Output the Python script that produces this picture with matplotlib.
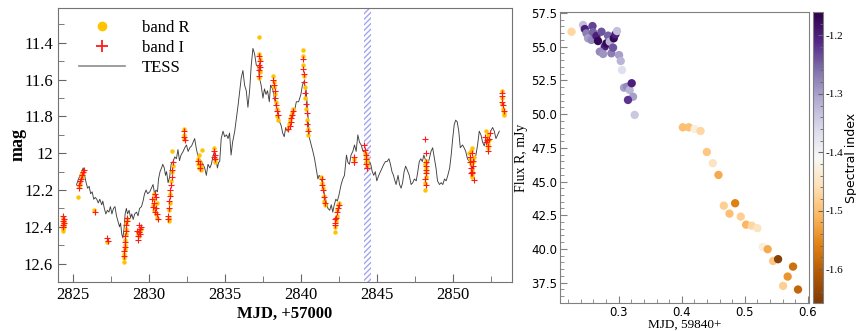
import matplotlib
matplotlib.use("Agg")
import matplotlib.pyplot as plt
from matplotlib.ticker import MultipleLocator, AutoMinorLocator
from matplotlib.lines import Line2D

SERIF = "Liberation Serif"
plt.rcParams["axes.unicode_minus"] = False

# ---- left panel: light curve ----
tess_t = [2825.22, 2825.35, 2825.5, 2825.6, 2825.66, 2825.75, 2825.85, 2825.95, 2826.05, 2826.15,
          2826.25, 2826.35, 2826.45, 2826.55, 2826.65, 2826.75, 2826.88, 2826.95, 2827.05, 2827.15,
          2827.25, 2827.35, 2827.45, 2827.55, 2827.65, 2827.75, 2827.85, 2827.95, 2828.05, 2828.12,
          2828.2, 2828.27, 2828.35, 2828.42, 2828.5, 2828.58, 2828.68, 2828.78, 2828.86, 2828.95,
          2829.05, 2829.17, 2829.27, 2829.37, 2829.5, 2829.6, 2829.7, 2829.8, 2829.9, 2830.04,
          2830.15, 2830.26, 2830.36, 2830.45, 2830.55, 2830.62, 2830.72, 2830.82, 2830.9, 2831.0,
          2831.08, 2831.15, 2831.25, 2831.35, 2831.45, 2831.58, 2831.69, 2831.8, 2831.9, 2832.0,
          2832.1, 2832.24, 2832.35, 2832.46, 2832.57, 2832.68, 2832.8, 2832.9, 2833.0, 2833.1,
          2833.2, 2833.3, 2833.45, 2833.55, 2833.66, 2833.77, 2833.88, 2834.0, 2834.1, 2834.2,
          2834.3, 2834.4, 2834.5, 2834.58, 2834.65, 2834.75, 2834.87, 2834.98, 2835.1, 2835.2,
          2835.3, 2835.4, 2835.5, 2835.64, 2835.75, 2835.86, 2835.97, 2836.07, 2836.18, 2836.29,
          2836.4, 2836.51, 2836.62, 2836.73, 2836.84, 2836.95, 2837.06, 2837.17, 2837.27, 2837.38,
          2837.5, 2837.6, 2837.7, 2837.8, 2837.92, 2838.0, 2838.14, 2838.25, 2838.36, 2838.47,
          2838.6, 2838.7, 2838.8, 2838.9, 2839.0, 2839.1, 2839.25, 2839.38, 2839.5, 2839.6,
          2839.7, 2839.85, 2840.0, 2840.1, 2840.2, 2840.35, 2840.46, 2840.57, 2840.68, 2840.79,
          2840.9, 2841.0, 2841.12, 2841.2, 2841.34, 2841.45, 2841.56, 2841.67, 2841.78, 2841.9,
          2842.0, 2842.1, 2842.2, 2842.3, 2842.4, 2842.5, 2842.65, 2842.76, 2842.87, 2843.0,
          2843.1, 2843.2, 2843.3, 2843.42, 2843.53, 2843.64, 2843.75, 2843.86, 2843.97, 2844.1,
          2844.2, 2844.3, 2844.4, 2844.5, 2844.6, 2844.7, 2844.8, 2844.9, 2845.0, 2845.13,
          2845.24, 2845.35, 2845.46, 2845.57, 2845.68, 2845.8, 2845.9, 2846.0, 2846.1, 2846.16,
          2846.27, 2846.4, 2846.5, 2846.6, 2846.7, 2846.8, 2846.9, 2847.0, 2847.14, 2847.26,
          2847.37, 2847.48, 2847.6, 2847.7, 2847.8, 2847.9, 2848.0, 2848.1, 2848.24, 2848.35,
          2848.46, 2848.57, 2848.68, 2848.8, 2848.9, 2849.0, 2849.13, 2849.24, 2849.35, 2849.46,
          2849.57, 2849.68, 2849.8, 2849.9, 2850.0, 2850.1, 2850.2, 2850.3, 2850.4, 2850.5,
          2850.65, 2850.75, 2850.86, 2850.97, 2851.1, 2851.2, 2851.3, 2851.4, 2851.53, 2851.64,
          2851.75, 2851.86, 2851.97, 2852.08, 2852.2, 2852.3, 2852.4, 2852.5, 2852.63, 2852.74,
          2852.85, 2852.96, 2853.07]
tess_mag = [12.17, 12.14, 12.11, 12.09, 12.08, 12.12, 12.16, 12.19, 12.18, 12.22,
            12.21, 12.25, 12.24, 12.25, 12.27, 12.25, 12.28, 12.26, 12.30, 12.33,
            12.31, 12.32, 12.29, 12.33, 12.30, 12.29, 12.34, 12.37, 12.40, 12.38,
            12.44, 12.46, 12.41, 12.33, 12.30, 12.33, 12.31, 12.35, 12.33, 12.36,
            12.33, 12.32, 12.34, 12.30, 12.29, 12.26, 12.22, 12.20, 12.22, 12.21,
            12.19, 12.17, 12.22, 12.20, 12.21, 12.14, 12.10, 12.08, 12.06, 12.08,
            12.12, 12.10, 12.16, 12.13, 12.06, 12.045, 12.02, 12.03, 11.98, 12.04,
            12.01, 11.99, 11.97, 11.955, 11.99, 11.97, 11.96, 11.94, 11.92, 11.97,
            12.01, 12.03, 12.045, 12.06, 12.08, 12.12, 12.06, 12.08, 12.06, 12.02,
            11.99, 12.03, 12.08, 12.05, 12.045, 11.92, 11.88, 11.91, 11.90, 11.92,
            11.89, 12.01, 11.94, 11.88, 11.81, 11.74, 11.66, 11.59, 11.55, 11.63,
            11.66, 11.75, 11.66, 11.52, 11.43, 11.46, 11.52, 11.53, 11.59, 11.63,
            11.70, 11.65, 11.68, 11.66, 11.72, 11.63, 11.65, 11.70, 11.74, 11.77,
            11.83, 11.85, 11.89, 11.91, 11.86, 11.88, 11.85, 11.82, 11.79, 11.76,
            11.72, 11.72, 11.68, 11.63, 11.61, 11.66, 11.79, 11.92, 11.955, 11.99,
            12.03, 12.08, 12.14, 12.12, 12.14, 12.17, 12.23, 12.26, 12.30, 12.31,
            12.28, 12.32, 12.28, 12.25, 12.26, 12.23, 12.17, 12.14, 12.12, 12.01,
            12.05, 12.06, 12.01, 11.99, 11.955, 11.99, 11.90, 11.94, 11.955, 11.99,
            11.99, 12.01, 12.03, 12.045, 12.06, 12.10, 12.12, 12.10, 12.15, 12.12,
            12.10, 12.08, 12.06, 12.045, 12.045, 12.03, 12.06, 12.10, 12.12, 12.14,
            12.17, 12.12, 12.17, 12.19, 12.16, 12.10, 12.07, 12.09, 12.12, 12.17,
            12.16, 12.14, 12.15, 12.10, 12.045, 12.03, 12.045, 12.01, 12.045, 12.06,
            12.03, 11.99, 11.97, 12.03, 12.08, 12.15, 12.17, 12.16, 12.17, 12.14,
            12.15, 12.12, 12.08, 12.01, 11.92, 11.845, 11.82, 11.83, 11.88, 11.97,
            11.955, 11.97, 11.99, 12.03, 12.045, 12.06, 12.08, 12.045, 12.01, 11.955,
            11.88, 11.90, 11.94, 11.96, 11.92, 11.95, 11.92, 11.88, 11.86, 11.88,
            11.92, 11.90, 11.88]

r_t = [2824.32, 2824.35, 2824.30, 2824.38, 2824.33, 2824.36, 2824.31,
       2825.30, 2825.38, 2825.42, 2825.55, 2825.60, 2825.65, 2825.50,
       2826.40, 2827.25,
       2828.33, 2828.34, 2828.36, 2828.38, 2828.40, 2828.42, 2828.45, 2828.48, 2828.50, 2828.52,
       2829.25, 2829.30, 2829.40, 2829.35, 2829.45,
       2830.25, 2830.30, 2830.35, 2830.40, 2830.45, 2830.50, 2830.30, 2830.55,
       2831.30, 2831.32, 2831.35, 2831.38, 2831.45, 2831.50, 2831.55, 2831.50, 2831.28,
       2832.28, 2832.30, 2832.33,
       2833.20, 2833.25, 2833.30, 2833.35, 2833.40, 2833.28, 2833.50, 2833.45,
       2834.28, 2834.33, 2834.36,
       2837.27, 2837.25, 2837.30, 2837.22, 2837.28, 2837.24,
       2838.15, 2838.20, 2838.25, 2838.30, 2838.35, 2838.40, 2838.45, 2838.50,
       2839.15, 2839.20, 2839.30, 2839.40, 2839.45, 2839.35,
       2840.12, 2840.14, 2840.16, 2840.20, 2840.25, 2840.30, 2840.35, 2840.40, 2840.45, 2840.50,
       2841.35, 2841.40, 2841.45, 2841.50, 2841.55, 2841.60,
       2842.22, 2842.25, 2842.30, 2842.35, 2842.40, 2842.45, 2842.50,
       2843.48,
       2844.25, 2844.28, 2844.30, 2844.33, 2844.35,
       2848.20, 2848.22, 2848.25, 2848.22, 2848.20, 2848.20, 2848.24,
       2851.10, 2851.15, 2851.20, 2851.25, 2851.30, 2851.35, 2851.20, 2851.40, 2851.30, 2851.28,
       2852.20, 2852.25, 2852.30, 2852.35, 2852.40, 2852.30,
       2853.22, 2853.25, 2853.28, 2853.33, 2853.38, 2853.40]
r_mag = [12.42, 12.40, 12.38, 12.37, 12.35, 12.39, 12.41,
         12.24, 12.18, 12.16, 12.13, 12.11, 12.10, 12.12,
         12.31, 12.48,
         12.59, 12.57, 12.55, 12.52, 12.50, 12.47, 12.44, 12.41, 12.38, 12.36,
         12.43, 12.44, 12.42, 12.45, 12.41,
         12.28, 12.31, 12.25, 12.30, 12.33, 12.27, 12.22, 12.35,
         12.35, 12.31, 12.27, 12.22, 12.15, 12.10, 12.07, 11.99, 12.37,
         11.87, 11.90, 11.92,
         12.03, 12.06, 12.08, 12.05, 12.09, 12.01, 11.98, 12.07,
         11.97, 12.03, 12.05,
         11.37, 11.46, 11.49, 11.53, 11.56, 11.59,
         11.58, 11.61, 11.64, 11.68, 11.72, 11.76, 11.80, 11.82,
         11.86, 11.84, 11.82, 11.78, 11.76, 11.80,
         11.44, 11.47, 11.52, 11.58, 11.64, 11.70, 11.76, 11.82, 11.87, 11.90,
         12.13, 12.16, 12.19, 12.23, 12.26, 12.28,
         12.43, 12.40, 12.37, 12.34, 12.31, 12.28, 12.27,
         12.03,
         12.00, 12.02, 12.05, 12.07, 12.04,
         12.06, 12.08, 12.10, 12.13, 12.16, 12.20, 12.04,
         12.00, 12.03, 12.06, 12.09, 12.12, 12.05, 11.99, 12.02, 11.97, 12.13,
         11.88, 11.92, 11.95, 11.90, 11.93, 11.97,
         11.66, 11.70, 11.73, 11.76, 11.78, 11.79]

i_t = [2824.35, 2824.38, 2824.30, 2824.33, 2824.36, 2824.32,
       2825.35, 2825.40, 2825.45, 2825.58, 2825.62, 2825.68, 2825.52,
       2826.42, 2827.25, 2827.28,
       2828.34, 2828.37, 2828.39, 2828.41, 2828.44, 2828.47, 2828.49, 2828.52, 2828.53,
       2829.22, 2829.28, 2829.33, 2829.38, 2829.42, 2829.47, 2829.30, 2829.36,
       2830.22, 2830.28, 2830.33, 2830.38, 2830.43, 2830.48, 2830.52, 2830.58, 2830.40,
       2831.27, 2831.30, 2831.33, 2831.36, 2831.40, 2831.44, 2831.48, 2831.52, 2831.57, 2831.25,
       2832.30, 2832.32, 2832.35,
       2833.22, 2833.32, 2833.38,
       2834.30, 2834.33, 2834.36, 2834.30,
       2837.26, 2837.29, 2837.23, 2837.27, 2837.22, 2837.30,
       2838.17, 2838.22, 2838.27, 2838.32, 2838.37, 2838.42, 2838.47,
       2839.18, 2839.25, 2839.33, 2839.38, 2839.42, 2839.50,
       2840.13, 2840.15, 2840.18, 2840.22, 2840.28, 2840.33, 2840.38, 2840.42, 2840.48,
       2841.37, 2841.42, 2841.47, 2841.52, 2841.57,
       2842.23, 2842.27, 2842.32, 2842.38, 2842.43, 2842.48, 2842.25,
       2843.50, 2843.52, 2843.48,
       2844.15, 2844.25, 2844.30, 2844.32, 2844.36, 2844.28,
       2848.20, 2848.23, 2848.21, 2848.24, 2848.22, 2848.25, 2848.20, 2848.22,
       2851.12, 2851.17, 2851.22, 2851.27, 2851.32, 2851.37, 2851.25, 2851.30, 2851.42, 2851.20,
       2852.15, 2852.22, 2852.28, 2852.33, 2852.38, 2852.45, 2852.30,
       2853.22, 2853.24, 2853.27, 2853.30, 2853.35]
i_mag = [12.34, 12.36, 12.37, 12.39, 12.38, 12.40,
         12.19, 12.17, 12.15, 12.12, 12.10, 12.09, 12.14,
         12.32, 12.46, 12.475,
         12.56, 12.53, 12.51, 12.48, 12.45, 12.42, 12.39, 12.37, 12.35,
         12.42, 12.45, 12.43, 12.41, 12.44, 12.40, 12.47, 12.39,
         12.25, 12.29, 12.27, 12.32, 12.24, 12.30, 12.33, 12.36, 12.22,
         12.34, 12.30, 12.26, 12.23, 12.20, 12.17, 12.13, 12.09, 12.05, 12.36,
         11.88, 11.91, 11.93,
         12.04, 12.06, 12.08,
         11.99, 12.01, 12.03, 12.02,
         11.47, 11.50, 11.52, 11.55, 11.58, 11.53,
         11.60, 11.63, 11.66, 11.70, 11.74, 11.77, 11.79,
         11.87, 11.85, 11.81, 11.83, 11.79, 11.77,
         11.49, 11.54, 11.57, 11.61, 11.67, 11.73, 11.78, 11.84, 11.88,
         12.14, 12.17, 12.20, 12.24, 12.27,
         12.38, 12.39, 12.35, 12.32, 12.30, 12.28, 12.36,
         12.02, 12.045, 12.05,
         11.955, 11.98, 12.03, 12.06, 12.08, 12.01,
         11.92, 12.00, 12.05, 12.07, 12.09, 12.11, 12.14, 12.17,
         12.02, 12.05, 12.08, 12.10, 12.07, 12.04, 12.00, 12.11, 12.145, 12.11,
         11.91, 11.94, 11.93, 11.96, 11.92, 11.89, 11.99,
         11.67, 11.69, 11.72, 11.74, 11.77]

gap_start, gap_end = 2844.14, 2844.63

# ---- right panel: flux vs time, coloured by spectral index ----
sp_t = [0.2252, 0.2435, 0.2462, 0.2584, 0.2489, 0.2514, 0.2568, 0.2593, 0.2647, 0.2672,
        0.2726, 0.2778, 0.2805, 0.2831, 0.2858, 0.2700, 0.2752, 0.2884, 0.2910, 0.2921,
        0.2948, 0.2973, 0.3005, 0.3032, 0.3052, 0.3084, 0.3132, 0.3174, 0.3206, 0.3227,
        0.3147, 0.3253,
        0.4017, 0.4112, 0.4203, 0.4297, 0.4397, 0.4492, 0.4582, 0.4666, 0.4846, 0.4756,
        0.4935, 0.5020, 0.5109, 0.5199, 0.5283, 0.5362, 0.5448, 0.5527, 0.5764, 0.5679,
        0.5606, 0.5843]
sp_flux = [56.11, 56.61, 56.31, 56.53, 55.99, 55.62, 55.50, 56.07, 55.79, 55.42,
           56.11, 55.00, 55.25, 55.82, 55.37, 54.63, 54.46, 54.51, 54.93, 55.62,
           55.92, 56.16, 54.38, 53.94, 53.27, 51.96, 52.03, 51.79, 52.29, 51.29,
           51.05, 49.94,
           49.02, 49.02, 48.90, 48.75, 47.19, 46.36, 45.49, 43.21, 43.39, 42.62,
           42.40, 41.80, 41.73, 41.54, 40.15, 39.98, 39.11, 39.24, 38.69, 37.95,
           37.26, 36.99]
sp_index = [-1.47, -1.33, -1.20, -1.23, -1.27, -1.30, -1.28, -1.25, -1.20, -1.17,
            -1.24, -1.20, -1.17, -1.25, -1.32, -1.28, -1.29, -1.27, -1.24, -1.17,
            -1.20, -1.33, -1.30, -1.32, -1.37, -1.30, -1.28, -1.32, -1.20, -1.30,
            -1.22, -1.34,
            -1.50, -1.50, -1.43, -1.47, -1.49, -1.45, -1.52, -1.48, -1.56, -1.50,
            -1.48, -1.51, -1.47, -1.45, -1.43, -1.52, -1.49, -1.65, -1.58, -1.54,
            -1.48, -1.59]

fig = plt.figure(figsize=(8.56, 3.31), dpi=100)

# left panel
ax = fig.add_axes([0.0678, 0.148, 0.5302, 0.828])
ax.axvspan(gap_start, gap_end, facecolor="none", edgecolor="#a4a4f2",
           hatch="//////", lw=0, zorder=1)
ax.plot(tess_t, tess_mag, color="0.25", lw=0.65, zorder=2)
ax.plot(r_t, r_mag, "o", color="#ffc400", ms=3.2, mec="none", zorder=3)
ax.plot(i_t, i_mag, "+", color="#ff1a1a", ms=3.8, mew=0.8, zorder=4)
ax.set_xlim(2824.0, 2853.9)
ax.set_ylim(12.70, 11.21)
ax.xaxis.set_major_locator(MultipleLocator(5))
ax.xaxis.set_minor_locator(MultipleLocator(2.5))
ax.yaxis.set_major_locator(MultipleLocator(0.2))
ax.yaxis.set_minor_locator(MultipleLocator(0.1))
ax.yaxis.set_major_formatter(matplotlib.ticker.FuncFormatter(lambda v, p: f"{v:g}"))
ax.tick_params(which="both", direction="in", top=False, right=False, color="0.4")
ax.tick_params(which="major", length=6, labelsize=12)
ax.tick_params(which="minor", length=4)
for lab in ax.get_xticklabels() + ax.get_yticklabels():
    lab.set_fontfamily(SERIF)
for s in ax.spines.values():
    s.set_color("0.45")
ax.set_xlabel("MJD, +57000", family=SERIF, fontweight="bold", fontsize=12, labelpad=2)
ax.set_ylabel("mag", family=SERIF, fontweight="bold", fontsize=13)
ax.yaxis.set_label_coords(-0.07, 0.5)
handles = [Line2D([], [], ls="none", marker="o", color="#ffc400", ms=7, mec="none"),
           Line2D([], [], ls="none", marker="+", color="#ff1a1a", ms=8, mew=1.3),
           Line2D([], [], color="0.55", lw=1.2)]
ax.legend(handles, ["band R", "band I", "TESS"], loc="upper left", frameon=False,
          prop={"family": SERIF, "size": 12}, handlelength=2.8, borderaxespad=0.3,
          labelspacing=0.25, handletextpad=1.0, bbox_to_anchor=(0.02, 1.0))

# right panel
ax2 = fig.add_axes([0.654, 0.0846, 0.291, 0.879])
sc = ax2.scatter(sp_t, sp_flux, c=sp_index, cmap="PuOr", vmin=-1.658, vmax=-1.16,
                 s=36, edgecolors="none", zorder=3)
ax2.set_xlim(0.2066, 0.6016)
ax2.set_ylim(35.99, 57.57)
ax2.xaxis.set_major_locator(MultipleLocator(0.1))
ax2.xaxis.set_minor_locator(AutoMinorLocator(5))
ax2.yaxis.set_major_locator(MultipleLocator(2.5))
ax2.yaxis.set_minor_locator(AutoMinorLocator(5))
ax2.tick_params(which="both", direction="in", color="0.5", labelsize=8.5, pad=2)
ax2.tick_params(which="major", length=5)
ax2.tick_params(which="minor", length=3)
for s in ax2.spines.values():
    s.set_color("0.5")
ax2.set_xlabel("MJD, 59840+", family=SERIF, fontsize=9.5, labelpad=0)
ax2.set_ylabel("Flux R, mJy", family=SERIF, fontsize=10, labelpad=2)

cax = fig.add_axes([0.9494, 0.0846, 0.0117, 0.879])
cb = fig.colorbar(sc, cax=cax)
cb.set_ticks([-1.2, -1.3, -1.4, -1.5, -1.6])
cb.ax.yaxis.set_minor_locator(MultipleLocator(0.02))
cb.ax.tick_params(which="both", direction="in", color="0.4", labelsize=8, pad=2)
cb.ax.tick_params(which="minor", length=2)
for lab in cb.ax.get_yticklabels():
    lab.set_fontfamily(SERIF)
cb.outline.set_edgecolor("0.5")
cb.set_label("Spectral index", fontsize=9, labelpad=1)

fig.savefig("out.png", dpi=100)
